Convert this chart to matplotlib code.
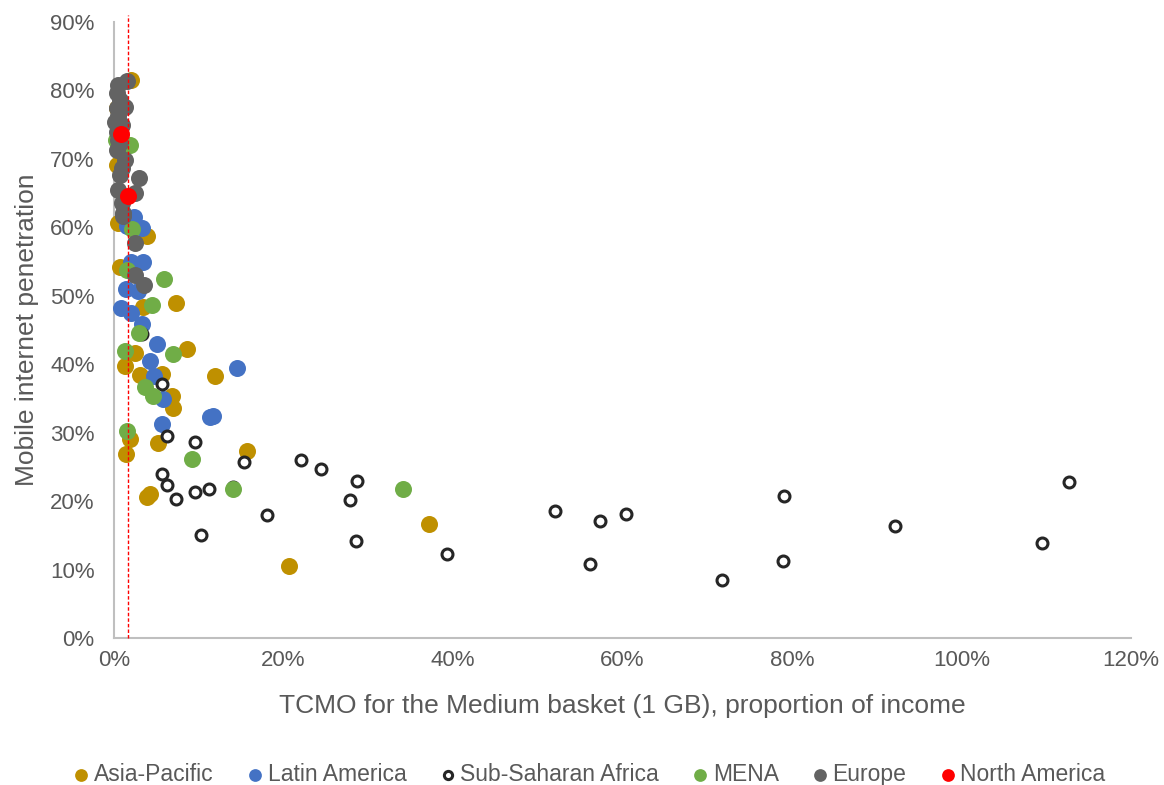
import matplotlib
matplotlib.use("Agg")
import matplotlib.pyplot as plt
from matplotlib.ticker import PercentFormatter

plt.rcParams['font.family'] = ['Liberation Sans', 'DejaVu Sans']

# TCMO (% of income) and mobile internet penetration (%) per region
asia_x = [2.0, 0.3, 0.4, 0.5, 3.9, 0.7, 3.4, 7.3, 2.5, 8.6, 1.3, 11.9, 3.1, 5.7,
          6.8, 7.0, 1.9, 1.4, 5.2, 15.7, 3.9, 4.2, 20.6, 37.2]
asia_y = [81.5, 77.4, 69.1, 60.6, 58.7, 54.2, 48.4, 48.9, 41.6, 42.2, 39.7, 38.3, 38.4, 38.6,
          35.4, 33.6, 29.1, 26.9, 28.5, 27.3, 20.6, 21.0, 10.5, 16.7]

latam_x = [2.4, 1.5, 3.3, 2.0, 3.4, 1.4, 2.8, 0.8, 2.0, 3.3, 5.1, 4.2, 4.7, 5.8,
           14.5, 5.7, 11.3, 11.7]
latam_y = [61.5, 60.2, 59.9, 54.9, 54.9, 51.0, 50.7, 48.2, 47.5, 45.9, 43.0, 40.5, 38.3, 34.9,
           39.5, 31.3, 32.3, 32.4]

ssa_x = [3.3, 5.6, 6.2, 9.5, 15.3, 22.1, 24.4, 28.7, 27.8, 5.6, 6.2, 7.3, 9.6, 11.2,
         14.0, 18.1, 10.3, 28.5, 39.3, 52.0, 57.3, 60.4, 56.2, 71.7, 79.0, 78.9,
         92.1, 109.5, 112.7]
ssa_y = [44.4, 37.1, 29.5, 28.6, 25.7, 26.0, 24.7, 22.9, 20.2, 23.9, 22.4, 20.3, 21.3, 21.8,
         22.1, 18.0, 15.0, 14.1, 12.3, 18.6, 17.1, 18.1, 10.8, 8.5, 20.7, 11.3,
         16.4, 13.9, 22.8]

mena_x = [0.2, 1.9, 2.1, 1.5, 5.9, 4.5, 2.9, 1.3, 7.0, 3.6, 4.6, 1.5, 9.2, 14.0, 34.1]
mena_y = [72.8, 72.0, 59.8, 53.8, 52.5, 48.7, 44.5, 41.9, 41.5, 36.7, 35.4, 30.2, 26.1, 21.8, 21.8]

europe_x = [1.5, 0.5, 0.3, 0.7, 1.3, 0.3, 0.5, 0.1, 0.9, 0.35, 0.5, 0.35, 0.7, 1.3,
            0.9, 0.7, 3.0, 0.5, 2.5, 0.9, 1.1, 1.1, 2.5, 2.5, 3.5]
europe_y = [81.4, 80.8, 79.6, 78.6, 77.6, 77.4, 76.2, 75.4, 75.0, 73.9, 72.8, 71.3, 72.3, 69.8,
            68.6, 67.6, 67.2, 65.5, 65.0, 63.6, 62.1, 61.7, 57.7, 53.1, 51.5]

namerica_x = [0.8, 1.6]
namerica_y = [73.6, 64.6]

threshold = 1.6

fig = plt.figure(figsize=(11.64, 7.85), dpi=100)
ax = fig.add_axes([0.098, 0.1873, 0.8737, 0.7847])

filled = dict(s=150, linewidths=0, zorder=3, clip_on=False)
ax.scatter(asia_x, asia_y, color='#BF9000', label='Asia-Pacific', **filled)
ax.scatter(latam_x, latam_y, color='#4472C4', label='Latin America', **filled)
ax.scatter(ssa_x, ssa_y, facecolors='white', edgecolors='#262626', s=62,
           linewidths=2.2, label='Sub-Saharan Africa', zorder=3, clip_on=False)
ax.scatter(mena_x, mena_y, color='#70AD47', label='MENA', **filled)
ax.scatter(europe_x, europe_y, color='#636363', label='Europe', **filled)
ax.scatter(namerica_x, namerica_y, color='#FF0000', label='North America', **filled)

ax.plot([threshold, threshold], [0, 91], color='#FF0000', linestyle=(0, (2.5, 1.5)),
        linewidth=1.0, zorder=4, clip_on=False)

ax.set_xlim(0, 120)
ax.set_ylim(0, 90)
ax.set_xticks(range(0, 121, 20))
ax.set_yticks(range(0, 91, 10))
ax.xaxis.set_major_formatter(PercentFormatter(decimals=0))
ax.yaxis.set_major_formatter(PercentFormatter(decimals=0))

for side in ['top', 'right']:
    ax.spines[side].set_visible(False)
for side in ['left', 'bottom']:
    ax.spines[side].set_color('#BFBFBF')
    ax.spines[side].set_linewidth(1.5)
ax.tick_params(length=0, labelsize=16, labelcolor='#595959')
ax.tick_params(axis='y', pad=14)
ax.tick_params(axis='x', pad=9)

ax.set_xlabel('TCMO for the Medium basket (1 GB), proportion of income',
              fontsize=19, color='#595959', labelpad=16)
ax.set_ylabel('Mobile internet penetration', fontsize=19, color='#595959', labelpad=8)

handles, labels = ax.get_legend_handles_labels()
leg = fig.legend(handles, labels, loc='lower center', bbox_to_anchor=(0.5, -0.028),
                 ncol=6, frameon=False, fontsize=16.5, handletextpad=-0.45,
                 columnspacing=0.8, markerscale=0.75)
for t in leg.get_texts():
    t.set_color('#595959')

fig.savefig('out.png', dpi=100)
